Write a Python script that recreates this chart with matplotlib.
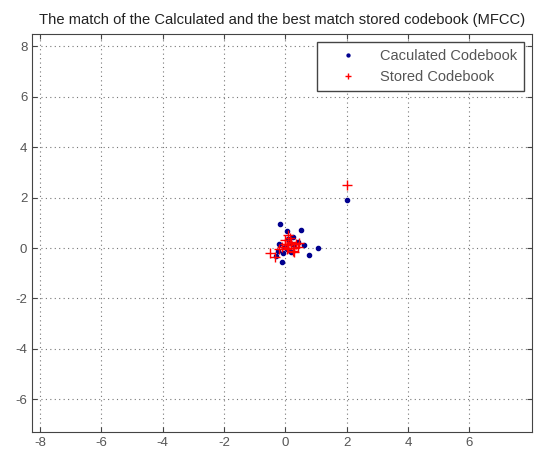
import matplotlib
matplotlib.use("Agg")
import matplotlib.pyplot as plt

# codebook points (MFCC, 2 dims)
calc_x = [-0.16, 0.07, 0.52, 1.07, 0.78, -0.07, -0.10, 0.15, 0.30, -0.25,
          0.05, 0.40, -0.30, 0.20, 2.00, 0.10, -0.20, 0.25, 0.60, 0.00]
calc_y = [0.96, 0.68, 0.72, 0.00, -0.28, -0.20, -0.56, 0.20, 0.10, -0.10,
          -0.05, 0.25, -0.30, -0.15, 1.90, 0.35, 0.15, 0.45, 0.10, 0.05]

stored_x = [-0.50, 2.00, 0.10, 0.20, 0.30, 0.00, -0.10, 0.25, 0.35, 0.15,
            0.05, 0.40, -0.20, 0.10, 0.20, -0.35, 0.45, 0.00, 0.30, 0.10]
stored_y = [-0.20, 2.50, 0.10, 0.20, 0.00, 0.30, 0.05, -0.10, 0.15, 0.40,
            -0.05, 0.05, -0.05, 0.00, 0.25, -0.35, 0.20, 0.15, -0.15, 0.50]

xticks = [-8, -6, -4, -2, 0, 2, 4, 6]
yticks = [-6, -4, -2, 0, 2, 4, 6, 8]

plt.rcParams['font.family'] = ['Liberation Sans', 'DejaVu Sans']
plt.rcParams['axes.unicode_minus'] = False

fig = plt.figure(figsize=(5.36, 4.58), dpi=100)
ax = fig.add_axes([0.06, 0.057, 0.933, 0.869])

ax.plot(calc_x, calc_y, '.', color='#00008f', markersize=6, label='Caculated Codebook')
ax.plot(stored_x, stored_y, '+', color='red', markersize=7, markeredgewidth=1,
        label='Stored Codebook')

ax.set_xlim(-8.25, 8.05)
ax.set_ylim(-7.3, 8.5)
ax.set_xticks(xticks)
ax.set_yticks(yticks)
ax.grid(True, linestyle=(0, (1, 3)), color='#777777', linewidth=0.8)
ax.tick_params(direction='in', top=True, right=True, labelsize=9.5,
               colors='#444444', labelcolor='#555555')
for s in ax.spines.values():
    s.set_color('#444444')

ax.set_title('The match of the Calculated and the best match stored codebook (MFCC)',
             fontsize=10.6, pad=7, color='#222222')
leg = ax.legend(loc='upper right', fontsize=10.5, fancybox=False, framealpha=1,
                edgecolor='#444444', borderaxespad=0.55, handlelength=3.2,
                markerscale=0.7, labelcolor='#555555', borderpad=0.5,
                labelspacing=0.45, handletextpad=0.6)

fig.savefig('out.png', dpi=100)
